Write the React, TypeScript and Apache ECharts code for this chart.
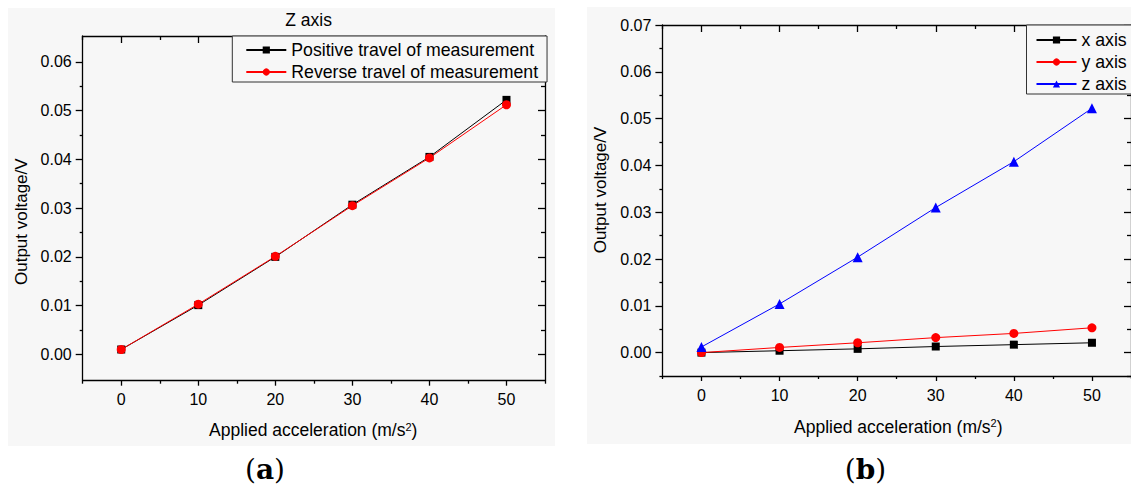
import React, { useEffect, useRef } from "react";
import * as echarts from "echarts";

// ---------- data ----------
const accel = [0, 10, 20, 30, 40, 50];
// panel (a): Z axis
const zPositive = [0.001, 0.0101, 0.0200, 0.0307, 0.0405, 0.0522];
const zReverse = [0.001, 0.0103, 0.0201, 0.0305, 0.0403, 0.0512];
// panel (b): three axes
const xAxisOut = [0.0, 0.0004, 0.0008, 0.0013, 0.0017, 0.0021];
const yAxisOut = [0.0, 0.0011, 0.0021, 0.0032, 0.0041, 0.0053];
const zAxisOut = [0.0012, 0.0104, 0.0204, 0.0310, 0.0408, 0.0522];

// tick values
const xMajor = [0, 10, 20, 30, 40, 50];
const xMinor = [-5, 5, 15, 25, 35, 45, 55];
const aYMajor = [0, 0.01, 0.02, 0.03, 0.04, 0.05, 0.06];
const aYMinor = [0.005, 0.015, 0.025, 0.035, 0.045, 0.055];
const bYMajor = [0, 0.01, 0.02, 0.03, 0.04, 0.05, 0.06, 0.07];
const bYMinor = [-0.005, 0.005, 0.015, 0.025, 0.035, 0.045, 0.055, 0.065];

const FONT = "'Liberation Sans', Arial, sans-serif";
const SERIF = "'DejaVu Serif', 'Liberation Serif', serif";

function axisSet(
  dim: "x" | "y",
  grid: number,
  min: number,
  max: number,
  major: number[],
  minor: number[],
  fmt: (v: number) => string
) {
  const pos = dim === "x" ? ["bottom", "top"] : ["left", "right"];
  const line = { color: "#000", width: 1.3 };
  const majLen = dim === "x" ? 5 : 7;
  const mk = (
    position: string,
    inside: boolean,
    ticks: number[],
    len: number,
    showLine: boolean,
    showLabel: boolean
  ) => ({
    type: "value",
    gridIndex: grid,
    position,
    min,
    max,
    splitLine: { show: false },
    axisLine: { show: showLine, onZero: false, lineStyle: line },
    axisTick: { show: true, inside, length: len, customValues: ticks, lineStyle: line },
    axisLabel: showLabel
      ? {
          show: true,
          customValues: major,
          formatter: fmt,
          margin: 11,
          fontSize: 16,
          color: "#000",
          fontFamily: FONT,
        }
      : { show: false },
  });
  return [
    mk(pos[0], false, major, majLen, true, true),
    mk(pos[0], false, minor, 3, false, false),
    mk(pos[1], true, major, 7, true, false),
    mk(pos[1], true, minor, 4, false, false),
  ];
}

const pairs = (ys: number[]) => accel.map((x, i) => [x, ys[i]]);

export default function App() {
  const ref = useRef<HTMLDivElement>(null);
  useEffect(() => {
    if (!ref.current) return;
    const chart = echarts.init(ref.current, null, { renderer: "svg" });
    const fx = (v: number) => String(Math.round(v));
    const fy = (v: number) => v.toFixed(2);

    const xAxes = [
      ...axisSet("x", 0, -5, 55, xMajor, xMinor, fx),
      ...axisSet("x", 1, -5, 55, xMajor, xMinor, fx),
    ];
    const yAxes = [
      ...axisSet("y", 0, -0.0054, 0.0653, aYMajor, aYMinor, fy),
      ...axisSet("y", 1, -0.005, 0.07, bYMajor, bYMinor, fy),
    ];

    const lineSeries = (
      name: string,
      ys: number[],
      ax: number,
      color: string,
      symbol: string,
      size: number
    ) => ({
      type: "line",
      name,
      xAxisIndex: ax,
      yAxisIndex: ax,
      data: pairs(ys),
      symbol,
      symbolSize: size,
      showSymbol: true,
      lineStyle: { color, width: 1 },
      itemStyle: { color },
      emphasis: { disabled: true },
    });

    const legendCommon = {
      orient: "vertical",
      itemWidth: 40,
      itemHeight: 9,
      itemGap: 4,
      borderColor: "#333",
      borderWidth: 1,
      borderRadius: 0,
      backgroundColor: "#f7f7f7",
      selectedMode: false,
      textStyle: { fontSize: 17.7, color: "#000", fontFamily: FONT },
    };

    const supRich = { sup: { fontSize: 11, fontFamily: FONT, fill: "#000", verticalAlign: "top", lineHeight: 11 } };

    chart.setOption({
      animation: false,
      textStyle: { fontFamily: FONT },
      grid: [
        { left: 82.7, top: 36, width: 462.3, height: 344.7, containLabel: false },
        { left: 662.4, top: 25, width: 471.9, height: 351, containLabel: false },
      ],
      xAxis: xAxes,
      yAxis: yAxes,
      legend: [
        {
          ...legendCommon,
          data: ["Positive travel of measurement", "Reverse travel of measurement"],
          left: 232.3,
          top: 36,
          padding: [5, 9, 1, 13],
        },
        {
          ...legendCommon,
          data: ["x axis", "y axis", "z axis"],
          left: 1026.5,
          top: 25,
          itemGap: 4,
          padding: [6, 30, 1, 9],
        },
      ],
      series: [
        lineSeries("Positive travel of measurement", zPositive, 0, "#000", "rect", 8),
        lineSeries("Reverse travel of measurement", zReverse, 0, "#ff0000", "circle", 9),
        lineSeries("x axis", xAxisOut, 4, "#000", "rect", 8),
        lineSeries("y axis", yAxisOut, 4, "#ff0000", "circle", 9),
        lineSeries("z axis", zAxisOut, 4, "#0000ff", "triangle", 10),
      ],
      graphic: [
        { type: "rect", z: -100, shape: { x: 8, y: 8, width: 547, height: 438 }, style: { fill: "#f7f7f7" } },
        { type: "rect", z: -100, shape: { x: 587, y: 7, width: 544, height: 437 }, style: { fill: "#f7f7f7" } },
        {
          type: "text",
          x: 308.6,
          y: 20,
          style: { text: "Z axis", fontSize: 17.5, fontFamily: FONT, fill: "#000", align: "center", verticalAlign: "middle" },
        },
        {
          type: "text",
          x: 21,
          y: 221.7,
          rotation: Math.PI / 2,
          style: { text: "Output voltage/V", fontSize: 17, fontFamily: FONT, fill: "#000", align: "center", verticalAlign: "middle" },
        },
        {
          type: "text",
          x: 600.7,
          y: 190,
          rotation: Math.PI / 2,
          style: { text: "Output voltage/V", fontSize: 17, fontFamily: FONT, fill: "#000", align: "center", verticalAlign: "middle" },
        },
        {
          type: "text",
          x: 313.2,
          y: 430,
          style: {
            text: "Applied acceleration (m/s{sup|2})",
            fontSize: 17.5,
            fontFamily: FONT,
            fill: "#000",
            align: "center",
            verticalAlign: "middle",
            rich: supRich,
          },
        },
        {
          type: "text",
          x: 898.3,
          y: 426.7,
          style: {
            text: "Applied acceleration (m/s{sup|2})",
            fontSize: 17.5,
            fontFamily: FONT,
            fill: "#000",
            align: "center",
            verticalAlign: "middle",
            rich: supRich,
          },
        },
        {
          type: "text",
          x: 265,
          y: 469,
          style: {
            text: "{p|(}{b|a}{p|)}",
            align: "center",
            verticalAlign: "middle",
            rich: {
              p: { fontSize: 28, fontFamily: SERIF, fill: "#000" },
              b: { fontSize: 28, fontFamily: SERIF, fontWeight: "bold", fill: "#000" },
            },
          },
        },
        {
          type: "text",
          x: 865.5,
          y: 469,
          style: {
            text: "{p|(}{b|b}{p|)}",
            align: "center",
            verticalAlign: "middle",
            rich: {
              p: { fontSize: 28, fontFamily: SERIF, fill: "#000" },
              b: { fontSize: 28, fontFamily: SERIF, fontWeight: "bold", fill: "#000" },
            },
          },
        },
      ],
    });
    return () => chart.dispose();
  }, []);
  return (
    <div
      ref={ref}
      style={{ position: "absolute", left: 0, top: 0, width: 1131, height: 486, background: "#fff" }}
    />
  );
}
